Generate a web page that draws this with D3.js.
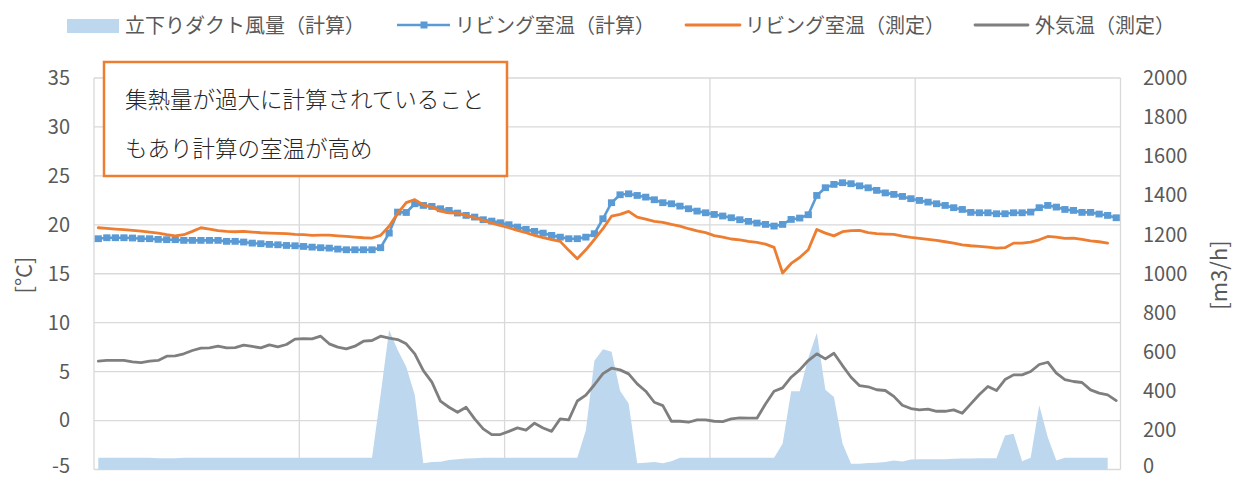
<!DOCTYPE html>
<html>
<head>
<meta charset="utf-8">
<script src="https://cdn.jsdelivr.net/npm/d3@7"></script>
<style>
  html, body { margin: 0; padding: 0; background: #fff; }
  svg { display: block; font-family: "Noto Sans CJK JP", "Noto Sans", sans-serif; }
</style>
</head>
<body>
<svg id="chart" width="1239" height="479"></svg>
<script>
// ---- categories (hourly, 5 days) ----
const hours = d3.range(120);
const leftTicks = [-5, 0, 5, 10, 15, 20, 25, 30, 35];
const rightTicks = [0, 200, 400, 600, 800, 1000, 1200, 1400, 1600, 1800, 2000];
const dayStarts = [0, 24, 48, 72, 96];

const seriesNames = ["立下りダクト風量（計算）", "リビング室温（計算）", "リビング室温（測定）", "外気温（測定）"];
const noteLines = ["集熱量が過大に計算されていること", "もあり計算の室温が高め"];

// 立下りダクト風量（計算） [m3/h]
const ductFlow = [
  60, 60, 60, 60, 60, 60, 60, 58, 58, 58, 60, 60, 60, 60, 60, 60, 60, 60, 60, 60,
  60, 60, 60, 60, 60, 60, 60, 60, 60, 60, 60, 60, 60, 380, 713, 611, 525, 380, 32, 38,
  40, 48, 52, 56, 58, 60, 60, 60, 60, 60, 60, 60, 60, 60, 60, 60, 60, 200, 556, 614,
  602, 402, 337, 32, 35, 38, 32, 42, 60, 60, 60, 60, 60, 60, 60, 60, 60, 60, 60, 60,
  131, 400, 400, 570, 697, 407, 371, 133, 30, 30, 33, 35, 38, 46, 41, 51, 52, 53, 53, 53,
  55, 56, 56, 57, 58, 58, 174, 183, 42, 60, 328, 165, 46, 60, 60, 60, 60, 60, 60
];

// リビング室温（計算） [°C]
const roomCalc = [
  18.58, 18.68, 18.68, 18.68, 18.65, 18.58, 18.58, 18.51, 18.48, 18.48,
  18.41, 18.41, 18.41, 18.41, 18.41, 18.31, 18.31, 18.24, 18.13, 18.07,
  18.00, 17.96, 17.89, 17.86, 17.79, 17.72, 17.66, 17.62, 17.52, 17.45,
  17.45, 17.45, 17.45, 17.66, 19.15, 21.30, 21.26, 22.15, 21.98, 21.88,
  21.64, 21.47, 21.20, 20.96, 20.79, 20.52, 20.38, 20.21, 20.01, 19.77,
  19.53, 19.33, 19.15, 18.92, 18.74, 18.58, 18.58, 18.74, 19.09, 20.62,
  22.26, 23.07, 23.17, 23.00, 22.83, 22.56, 22.26, 22.15, 21.91, 21.64,
  21.40, 21.23, 21.06, 20.90, 20.72, 20.52, 20.35, 20.18, 20.04, 19.87,
  20.04, 20.55, 20.69, 21.03, 23.00, 23.79, 24.13, 24.30, 24.20, 23.98,
  23.78, 23.52, 23.26, 23.11, 22.90, 22.67, 22.49, 22.32, 22.15, 21.98,
  21.75, 21.57, 21.27, 21.23, 21.23, 21.13, 21.13, 21.23, 21.23, 21.30,
  21.75, 21.98, 21.81, 21.57, 21.47, 21.27, 21.27, 21.10, 20.96, 20.72
];

// リビング室温（測定） [°C]
const roomMeas = [
  19.70, 19.63, 19.56, 19.50, 19.43, 19.36, 19.26, 19.15, 18.99, 18.88,
  18.99, 19.33, 19.70, 19.56, 19.40, 19.33, 19.29, 19.33, 19.26, 19.19,
  19.15, 19.12, 19.09, 19.02, 18.99, 18.92, 18.95, 18.95, 18.88, 18.81,
  18.74, 18.68, 18.65, 18.92, 19.85, 21.17, 22.26, 22.57, 22.03, 21.81,
  21.40, 21.23, 21.20, 20.96, 20.72, 20.45, 20.17, 19.94, 19.70, 19.43,
  19.19, 18.92, 18.68, 18.48, 18.31, 17.39, 16.54, 17.45, 18.50, 19.60,
  20.88, 21.06, 21.37, 20.79, 20.58, 20.35, 20.25, 20.04, 19.87, 19.60,
  19.38, 19.20, 18.90, 18.74, 18.55, 18.47, 18.30, 18.20, 18.03, 17.70,
  15.08, 16.05, 16.66, 17.46, 19.53, 19.15, 18.87, 19.30, 19.41, 19.43,
  19.20, 19.09, 19.05, 19.02, 18.85, 18.71, 18.61, 18.51, 18.41, 18.27,
  18.13, 17.96, 17.86, 17.79, 17.72, 17.62, 17.66, 18.13, 18.13, 18.24,
  18.47, 18.81, 18.74, 18.61, 18.64, 18.51, 18.37, 18.27, 18.13
];

// 外気温（測定） [°C]
const outdoor = [
  6.07, 6.14, 6.14, 6.14, 6.00, 5.93, 6.07, 6.14, 6.58, 6.61,
  6.82, 7.16, 7.40, 7.43, 7.60, 7.43, 7.46, 7.70, 7.57, 7.43,
  7.74, 7.53, 7.77, 8.32, 8.38, 8.35, 8.62, 7.84, 7.50, 7.33,
  7.60, 8.11, 8.18, 8.62, 8.42, 8.28, 7.84, 6.82, 5.11, 3.92,
  1.98, 1.36, 0.85, 1.36, 0.17, -0.85, -1.43, -1.43, -1.10, -0.75,
  -0.98, -0.27, -0.76, -1.10, 0.17, 0.07, 2.00, 2.60, 3.66, 4.80,
  5.35, 5.18, 4.77, 3.75, 3.00, 1.87, 1.53, -0.07, -0.07, -0.17,
  0.07, 0.07, -0.07, -0.10, 0.17, 0.27, 0.24, 0.24, 1.70, 3.00,
  3.34, 4.43, 5.18, 6.13, 6.82, 6.30, 6.88, 5.62, 4.43, 3.56,
  3.45, 3.15, 3.07, 2.47, 1.57, 1.23, 1.09, 1.16, 0.95, 0.95,
  1.09, 0.75, 1.70, 2.66, 3.48, 3.07, 4.19, 4.67, 4.67, 5.01,
  5.73, 5.96, 4.84, 4.19, 3.99, 3.89, 3.14, 2.80, 2.62, 2.04
];

// ---- drawing ----
const colors = { flow: "#BDD7EE", calc: "#5B9BD5", meas: "#ED7D31", out: "#7F7F7F", grid: "#D9D9D9", text: "#595959" };
const svg = d3.select("#chart");
const L = 94, R = 1120.5, T = 78, B = 469.5;

const x = d3.scalePoint().domain(hours).range([L, R]).padding(0.5);
const step = x.step();
const yL = d3.scaleLinear().domain([-5, 35]).range([B, T]);
const yR = d3.scaleLinear().domain([0, 2000]).range([B, T]);

// gridlines
const grid = svg.append("g");
grid.selectAll("line.h").data(leftTicks).join("line")
  .attr("x1", L).attr("x2", R)
  .attr("y1", d => yL(d)).attr("y2", d => yL(d))
  .attr("stroke", colors.grid).attr("stroke-width", 1.3);
const vPos = dayStarts.map(h => x(h) - step / 2).concat([x(hours[hours.length - 1]) + step / 2]);
grid.selectAll("line.v").data(vPos).join("line")
  .attr("x1", d => d).attr("x2", d => d)
  .attr("y1", T).attr("y2", B)
  .attr("stroke", colors.grid).attr("stroke-width", 1.3);

// area (secondary axis)
svg.append("path")
  .datum(ductFlow)
  .attr("fill", colors.flow)
  .attr("d", d3.area().x((d, i) => x(hours[i])).y0(yR(0)).y1(d => yR(d)));

const lineL = d3.line().x((d, i) => x(hours[i])).y(d => yL(d));

// calc room temp with square markers
svg.append("path").datum(roomCalc)
  .attr("fill", "none").attr("stroke", colors.calc).attr("stroke-width", 2.6)
  .attr("stroke-linejoin", "round").attr("d", lineL);
svg.append("g").selectAll("rect").data(roomCalc).join("rect")
  .attr("x", (d, i) => x(hours[i]) - 3.6).attr("y", d => yL(d) - 3.4)
  .attr("width", 7.2).attr("height", 6.8)
  .attr("fill", colors.calc);

// measured room temp
svg.append("path").datum(roomMeas)
  .attr("fill", "none").attr("stroke", colors.meas).attr("stroke-width", 2.8)
  .attr("stroke-linejoin", "round").attr("stroke-linecap", "round").attr("d", lineL);

// outdoor temp
svg.append("path").datum(outdoor)
  .attr("fill", "none").attr("stroke", colors.out).attr("stroke-width", 2.8)
  .attr("stroke-linejoin", "round").attr("stroke-linecap", "round").attr("d", lineL);

// axes
const plain = d => String(d);
const axL = svg.append("g").attr("transform", `translate(${L},0)`)
  .call(d3.axisLeft(yL).tickValues(leftTicks).tickFormat(plain).tickSize(0).tickPadding(24));
const axR = svg.append("g").attr("transform", `translate(${R},0)`)
  .call(d3.axisRight(yR).tickValues(rightTicks).tickFormat(plain).tickSize(0).tickPadding(22.5));
[axL, axR].forEach(a => {
  a.select(".domain").remove();
  a.selectAll("text").attr("fill", colors.text)
    .style("font-size", "20px").style("font-family", '"Noto Sans CJK JP", "Noto Sans", sans-serif');
});
// keep the lowest labels inside the picture
axL.selectAll(".tick").filter(d => d === leftTicks[0]).select("text").attr("dy", "0.16em");
axR.selectAll(".tick").filter(d => d === rightTicks[0]).select("text").attr("dy", "0.16em");

// axis titles
svg.append("text").attr("transform", "translate(22,275) rotate(-90)")
  .attr("text-anchor", "middle").attr("dominant-baseline", "central")
  .attr("fill", colors.text).style("font-size", "22px").text("[°C]");
svg.append("text").attr("transform", "translate(1217,275) rotate(-90)")
  .attr("text-anchor", "middle").attr("dominant-baseline", "central")
  .attr("fill", colors.text).style("font-size", "22px").text("[m3/h]");

// legend
const lg = svg.append("g").style("font-size", "20px").attr("fill", colors.text);
lg.append("rect").attr("x", 67).attr("y", 19).attr("width", 52).attr("height", 14).attr("fill", colors.flow);
lg.append("text").attr("x", 125).attr("y", 24).attr("dominant-baseline", "central").text(seriesNames[0]);
lg.append("line").attr("x1", 397).attr("x2", 450).attr("y1", 25).attr("y2", 25)
  .attr("stroke", colors.calc).attr("stroke-width", 2.6);
lg.append("rect").attr("x", 420.5).attr("y", 21.5).attr("width", 7).attr("height", 7).attr("fill", colors.calc);
lg.append("text").attr("x", 455).attr("y", 24).attr("dominant-baseline", "central").text(seriesNames[1]);
lg.append("line").attr("x1", 686).attr("x2", 740).attr("y1", 25).attr("y2", 25)
  .attr("stroke", colors.meas).attr("stroke-width", 2.8).attr("stroke-linecap", "round");
lg.append("text").attr("x", 745).attr("y", 24).attr("dominant-baseline", "central").text(seriesNames[2]);
lg.append("line").attr("x1", 975).attr("x2", 1028).attr("y1", 25).attr("y2", 25)
  .attr("stroke", colors.out).attr("stroke-width", 2.8).attr("stroke-linecap", "round");
lg.append("text").attr("x", 1035).attr("y", 24).attr("dominant-baseline", "central").text(seriesNames[3]);

// annotation box
const nb = svg.append("g");
nb.append("rect").attr("x", 104).attr("y", 62).attr("width", 403).attr("height", 114)
  .attr("fill", "#fff").attr("stroke", colors.meas).attr("stroke-width", 2.5);
nb.selectAll("text").data(noteLines).join("text")
  .attr("x", 125).attr("y", (d, i) => 98 + i * 49)
  .attr("dominant-baseline", "central")
  .attr("fill", "#262626").style("font-size", "22.5px").style("font-weight", 300)
  .text(d => d);
</script>
</body>
</html>
